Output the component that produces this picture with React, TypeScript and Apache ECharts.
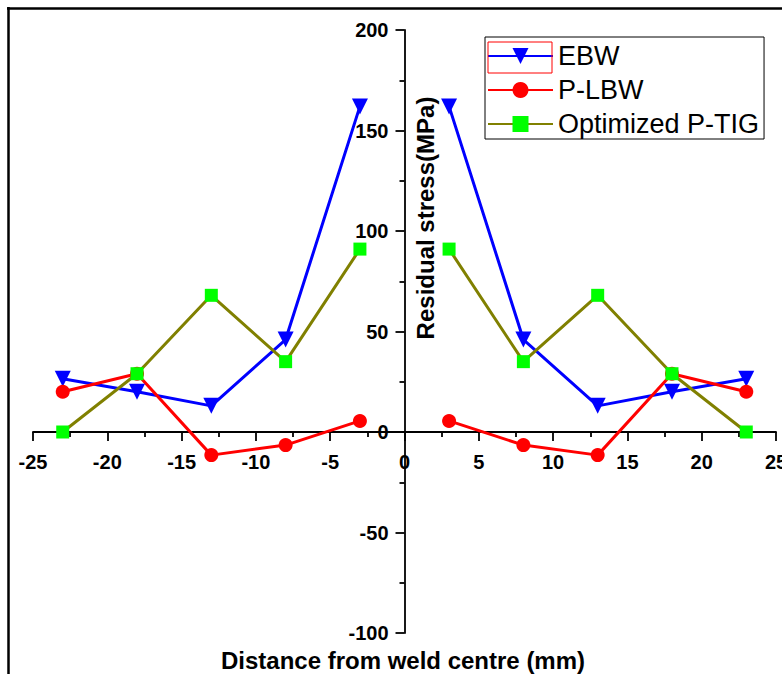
import React, { useEffect, useRef } from "react";
import * as echarts from "echarts";

const xLeft = [-23, -18, -13, -8, -3];
const xRight = [3, 8, 13, 18, 23];
const ebwLeft = [26.5, 20, 13, 46, 162];
const ebwRight = [162, 46, 13, 20, 26.5];
const plbwLeft = [20, 29, -11.5, -6.5, 5.5];
const plbwRight = [5.5, -6.5, -11.5, 29, 20];
const ptigLeft = [0, 29, 68, 35, 91];
const ptigRight = [91, 35, 68, 29, 0];

const FONT = "'Liberation Sans', Arial, sans-serif";

function pairs(xs: number[], ys: number[]) {
  return xs.map((x, i) => [x, ys[i]]);
}

export default function App() {
  const ref = useRef<HTMLDivElement>(null);
  useEffect(() => {
    if (!ref.current) return;
    const chart = echarts.init(ref.current, undefined, { renderer: "svg" });
    const mk = (name: string, data: number[][], color: string, symbol: string, size: number, markerColor: string, rotate = 0) => ({
      name,
      type: "line",
      data,
      symbol,
      symbolSize: size,
      symbolRotate: rotate,
      showAllSymbol: true,
      lineStyle: { color, width: 3 },
      itemStyle: { color: markerColor, opacity: 1 },
      emphasis: { disabled: true },
      z: 3,
    });
    const W = 782, H = 674;
    const gl = 33, gr = 6, gt = 30, gb = 41;
    const plotW = W - gl - gr;
    const plotH = H - gt - gb;
    const yZeroFromBottom = plotH * (100 / 300);
    const xZeroFromLeft = plotW * (25 / 50);
    chart.setOption({
      animation: false,
      backgroundColor: "#ffffff",
      grid: { left: gl, right: gr, top: gt, bottom: gb, containLabel: false, outerBoundsMode: "none" },
      xAxis: {
        type: "value",
        min: -25,
        max: 25,
        interval: 5,
        position: "bottom",
        offset: -yZeroFromBottom,
        axisLine: { onZero: false, lineStyle: { color: "#000", width: 1.8 } },
        axisTick: { show: true, length: 9, lineStyle: { color: "#000", width: 1.8 } },
        minorTick: { show: true, splitNumber: 2, length: 5, lineStyle: { color: "#000", width: 1.8 } },
        splitLine: { show: false },
        axisLabel: { color: "#000", fontSize: 20, fontWeight: "bold", fontFamily: FONT, margin: 20, hideOverlap: false },
      },
      yAxis: {
        type: "value",
        min: -100,
        max: 200,
        interval: 50,
        position: "left",
        offset: -xZeroFromLeft,
        axisLine: { show: true, onZero: false, lineStyle: { color: "#000", width: 1.8 } },
        axisTick: { show: true, length: 9, lineStyle: { color: "#000", width: 1.8 } },
        minorTick: { show: true, splitNumber: 2, length: 5, lineStyle: { color: "#000", width: 1.8 } },
        splitLine: { show: false },
        axisLabel: { color: "#000", fontSize: 20, fontWeight: "bold", fontFamily: FONT, margin: 16, hideOverlap: false },
      },
      legend: {
        orient: "vertical",
        left: 485,
        top: 37,
        width: 282,
        padding: [5, 5, 1, 2],
        borderColor: "#000",
        borderWidth: 1,
        itemWidth: 65,
        itemHeight: 20,
        itemGap: 6,
        textStyle: { color: "#000", fontSize: 27, fontFamily: FONT, lineHeight: 28 },
        data: ["EBW", "P-LBW", "Optimized P-TIG"],
        selectedMode: false,
      },
      graphic: [
        { type: "line", shape: { x1: 7, y1: 8.5, x2: 782, y2: 8.5 }, style: { stroke: "#000", lineWidth: 2.5 } },
        { type: "line", shape: { x1: 8.5, y1: 7, x2: 8.5, y2: 674 }, style: { stroke: "#000", lineWidth: 2.5 } },
        { type: "rect", shape: { x: 488, y: 42, width: 64, height: 31 }, style: { fill: "none", stroke: "#ff0000", lineWidth: 1 }, z: 100 },
        {
          type: "text",
          x: 403,
          y: 660,
          style: { text: "Distance from weld centre (mm)", fontSize: 24, fontWeight: "bold", fontFamily: FONT, fill: "#000", align: "center", verticalAlign: "middle" },
        },
        {
          type: "text",
          x: 425,
          y: 218,
          rotation: Math.PI / 2,
          style: { text: "Residual stress(MPa)", fontSize: 24, fontWeight: "bold", fontFamily: FONT, fill: "#000", align: "center", verticalAlign: "middle" },
        },
      ],
      series: [
        mk("EBW", pairs(xLeft, ebwLeft), "#0000ff", "triangle", 16, "#0000ff", 180),
        mk("EBW", pairs(xRight, ebwRight), "#0000ff", "triangle", 16, "#0000ff", 180),
        mk("P-LBW", pairs(xLeft, plbwLeft), "#ff0000", "circle", 14, "#ff0000"),
        mk("P-LBW", pairs(xRight, plbwRight), "#ff0000", "circle", 14, "#ff0000"),
        mk("Optimized P-TIG", pairs(xLeft, ptigLeft), "#808000", "rect", 13, "#00ff00"),
        mk("Optimized P-TIG", pairs(xRight, ptigRight), "#808000", "rect", 13, "#00ff00"),
      ],
    });
    return () => chart.dispose();
  }, []);
  return <div ref={ref} style={{ position: "fixed", left: 0, top: 0, width: 782, height: 674 }} />;
}
